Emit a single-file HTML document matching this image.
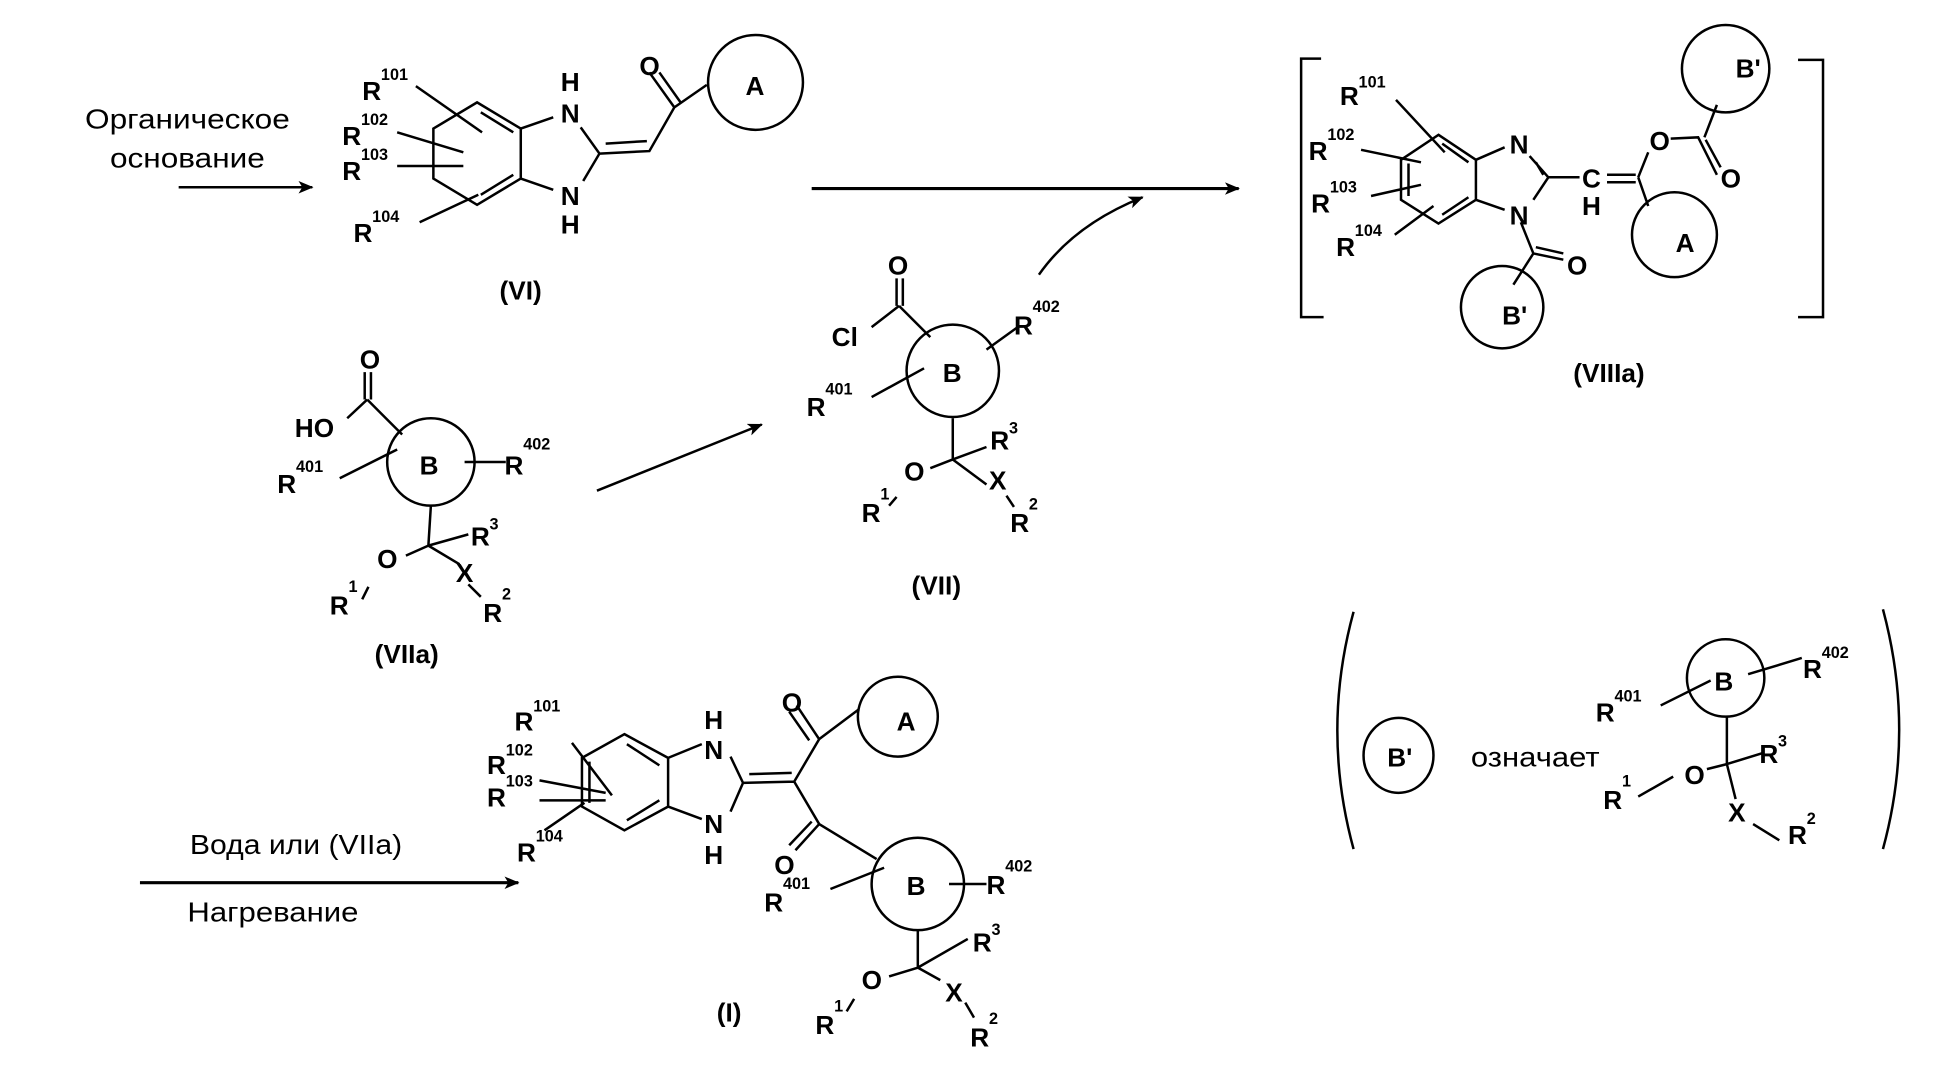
<!DOCTYPE html>
<html><head><meta charset="utf-8"><style>
html,body{margin:0;padding:0;background:#fff}
svg{display:block}
text{font-family:"Liberation Sans",sans-serif;font-weight:bold;font-size:21px;fill:#000}
.s{font-size:13px}
.r{font-weight:normal;font-size:22px}
</style></head><body>
<svg width="1948" height="1085" viewBox="0 0 1560 869" xmlns="http://www.w3.org/2000/svg">
<defs><marker id="ah" markerWidth="12" markerHeight="10" refX="11" refY="5" orient="auto" markerUnits="userSpaceOnUse"><path d="M0,0 L12,5 L0,10 L3,5z" fill="#000"/></marker></defs>
<g stroke="#000" stroke-width="2" fill="none">
<line x1="143" y1="150" x2="250" y2="150" marker-end="url(#ah)"/>
<line x1="650" y1="151" x2="992" y2="151" stroke-width="2.5" marker-end="url(#ah)"/>
<path d="M832,220 Q860,180 915,158" marker-end="url(#ah)"/>
<line x1="478" y1="393" x2="610" y2="340" marker-end="url(#ah)"/>
<line x1="112" y1="707" x2="415" y2="707" stroke-width="2.5" marker-end="url(#ah)"/>
<!-- VI -->
<path d="M382,82 L417,103 L417,143 L382,164 L347,143 L347,103Z"/>
<path d="M385,90 L411,106 M411,140 L385,156"/>
<path d="M417,103 L443,94 M417,143 L443,152 M465,102 L480,123 L467,145 M480,123 L520,121 L540,86 L520,58 M485,115 L518,113 M540,86 L566,68 M528,58 L545,82"/>
<circle cx="605" cy="66" r="38"/>
<path d="M333,69 L386,106 M318,106 L371,122 M318,133 L371,133 M336,178 L383,156"/>
<!-- VIIIa -->
<path d="M1058,47 L1042,47 L1042,254 L1060,254 M1440,48 L1460,48 L1460,254 L1440,254"/>
<path d="M1152,108 L1182,128 L1182,160 L1152,179 L1122,160 L1122,128Z"/>
<path d="M1155,115 L1176,130 M1176,158 L1155,172 M1128,131 L1128,157"/>
<path d="M1182,128 L1205,118 M1182,160 L1205,168 M1225,125 L1240,142 L1228,160 M1230,130 L1236,140 M1240,142 L1265,142 M1287,140 L1310,140 M1287,146 L1310,146 M1312,142 L1320,122 M1338,111 L1360,110 L1375,140 M1366,112 L1378,134 M1365,110 L1375,84 M1312,142 L1320,165"/>
<circle cx="1382" cy="55" r="35"/><circle cx="1341" cy="188" r="34"/><circle cx="1203" cy="246" r="33"/>
<path d="M1218,178 L1228,203 L1212,228 M1228,203 L1252,208 M1230,198 L1252,203"/>
<path d="M1118,80 L1157,122 M1090,120 L1138,130 M1098,157 L1138,148 M1117,188 L1148,165"/>
<!-- VIIa -->
<circle cx="345" cy="370" r="35"/>
<path d="M292,298 L292,320 M297,298 L297,320 M294,320 L278,335 M294,320 L322,348 M372,370 L405,370 M272,383 L318,360 M345,405 L343,437 M343,437 L325,445 M343,437 L368,452 M343,437 L375,428 M375,468 L385,478 M290,480 L295,470"/>
<!-- VII -->
<circle cx="763" cy="297" r="37"/>
<path d="M718,223 L718,245 M723,223 L723,245 M720,245 L698,262 M720,245 L745,270 M790,280 L815,262 M698,318 L740,295 M763,335 L763,368 M763,368 L745,375 M763,368 L790,358 M763,368 L790,388 M806,397 L812,406 M712,405 L718,398"/>
<!-- I -->
<path d="M500,588 L535,607 L535,646 L500,665 L466,646 L466,607Z"/>
<path d="M502,596 L528,613 M528,641 L502,657 M472,610 L472,643"/>
<path d="M535,607 L562,596 M535,646 L562,656 M585,606 L595,627 L585,650 M595,627 L636,626 M600,620 L634,619 M636,626 L656,592 L638,565 M648,593 L632,570 M656,592 L688,568 M636,626 L656,660 L702,688 M656,660 L637,681 M650,658 L632,677 M665,712 L708,695 M760,708 L790,708 M735,745 L735,775 M735,775 L712,782 M735,775 L775,752 M735,775 L753,785 M773,803 L780,815 M678,810 L684,800"/>
<path d="M458,595 L490,637 M432,625 L485,635 M432,641 L485,641 M436,665 L468,643"/>
<circle cx="719" cy="574" r="32"/><circle cx="735" cy="708" r="37"/>
<!-- parens -->
<path d="M1084,490 Q1058,585 1084,680 M1508,488 Q1534,585 1508,680"/>
<ellipse cx="1120" cy="605" rx="28" ry="30"/>
<circle cx="1382" cy="543" r="31"/>
<path d="M1330,565 L1370,545 M1400,540 L1443,527 M1383,574 L1383,612 M1383,612 L1367,616 M1383,612 L1412,603 M1383,612 L1390,640 M1312,638 L1340,622 M1404,660 L1425,673"/>
</g>
<text class="r" x="68" y="103" textLength="164" lengthAdjust="spacingAndGlyphs">Органическое</text>
<text class="r" x="88" y="134" textLength="124" lengthAdjust="spacingAndGlyphs">основание</text>
<text class="r" x="152" y="684" textLength="170" lengthAdjust="spacingAndGlyphs">Вода или (VIIa)</text>
<text class="r" x="150" y="738" textLength="137" lengthAdjust="spacingAndGlyphs">Нагревание</text>
<text class="r" x="1178" y="614" textLength="103" lengthAdjust="spacingAndGlyphs">означает</text>
<!-- VI -->
<text x="290" y="80">R</text><text class="s" x="305" y="64">101</text>
<text x="274" y="116">R</text><text class="s" x="289" y="100">102</text>
<text x="274" y="144">R</text><text class="s" x="289" y="128">103</text>
<text x="283" y="194">R</text><text class="s" x="298" y="178">104</text>
<text x="449" y="73">H</text><text x="449" y="98">N</text>
<text x="449" y="164">N</text><text x="449" y="187">H</text>
<text x="512" y="60">O</text><text x="597" y="76">A</text>
<text x="400" y="240">(VI)</text>
<!-- VIIIa -->
<text x="1073" y="84">R</text><text class="s" x="1088" y="70">101</text>
<text x="1048" y="128">R</text><text class="s" x="1063" y="112">102</text>
<text x="1050" y="170">R</text><text class="s" x="1065" y="154">103</text>
<text x="1070" y="205">R</text><text class="s" x="1085" y="189">104</text>
<text x="1209" y="123">N</text><text x="1209" y="180">N</text>
<text x="1267" y="150">C</text><text x="1267" y="172">H</text>
<text x="1321" y="120">O</text><text x="1378" y="150">O</text>
<text x="1390" y="62">B'</text><text x="1342" y="202">A</text>
<text x="1255" y="220">O</text><text x="1203" y="260">B'</text>
<text x="1260" y="306">(VIIIa)</text>
<!-- VIIa -->
<text x="288" y="295">O</text><text x="236" y="350">HO</text>
<text x="336" y="380">B</text>
<text x="404" y="380">R</text><text class="s" x="419" y="360">402</text>
<text x="222" y="395">R</text><text class="s" x="237" y="378">401</text>
<text x="302" y="455">O</text><text x="365" y="466">X</text>
<text x="377" y="437">R</text><text class="s" x="392" y="424">3</text>
<text x="387" y="498">R</text><text class="s" x="402" y="480">2</text>
<text x="264" y="492">R</text><text class="s" x="279" y="474">1</text>
<text x="300" y="531">(VIIa)</text>
<!-- VII -->
<text x="711" y="220">O</text><text x="666" y="277">Cl</text>
<text x="755" y="306">B</text>
<text x="812" y="268">R</text><text class="s" x="827" y="250">402</text>
<text x="646" y="333">R</text><text class="s" x="661" y="316">401</text>
<text x="724" y="385">O</text><text x="792" y="392">X</text>
<text x="793" y="360">R</text><text class="s" x="808" y="347">3</text>
<text x="809" y="426">R</text><text class="s" x="824" y="408">2</text>
<text x="690" y="418">R</text><text class="s" x="705" y="400">1</text>
<text x="730" y="476">(VII)</text>
<!-- I -->
<text x="412" y="585">R</text><text class="s" x="427" y="570">101</text>
<text x="390" y="620">R</text><text class="s" x="405" y="605">102</text>
<text x="390" y="646">R</text><text class="s" x="405" y="630">103</text>
<text x="414" y="690">R</text><text class="s" x="429" y="674">104</text>
<text x="564" y="584">H</text><text x="564" y="608">N</text>
<text x="564" y="667">N</text><text x="564" y="692">H</text>
<text x="626" y="570">O</text><text x="718" y="585">A</text>
<text x="620" y="700">O</text><text x="726" y="717">B</text>
<text x="790" y="716">R</text><text class="s" x="805" y="698">402</text>
<text x="612" y="730">R</text><text class="s" x="627" y="712">401</text>
<text x="690" y="792">O</text><text x="757" y="802">X</text>
<text x="779" y="762">R</text><text class="s" x="794" y="749">3</text>
<text x="777" y="838">R</text><text class="s" x="792" y="820">2</text>
<text x="653" y="828">R</text><text class="s" x="668" y="810">1</text>
<text x="574" y="818">(I)</text>
<!-- legend -->
<text x="1111" y="614">B'</text>
<text x="1373" y="553">B</text>
<text x="1278" y="578">R</text><text class="s" x="1293" y="562">401</text>
<text x="1444" y="543">R</text><text class="s" x="1459" y="527">402</text>
<text x="1349" y="628">O</text>
<text x="1409" y="611">R</text><text class="s" x="1424" y="598">3</text>
<text x="1284" y="648">R</text><text class="s" x="1299" y="630">1</text>
<text x="1384" y="658">X</text>
<text x="1432" y="676">R</text><text class="s" x="1447" y="660">2</text>
</svg>
</body></html>
